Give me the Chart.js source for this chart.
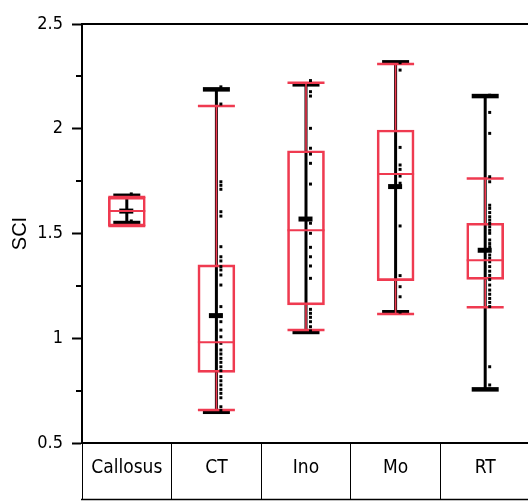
<!DOCTYPE html>
<html>
<head>
<meta charset="utf-8">
<script src="https://cdn.jsdelivr.net/npm/chart.js@4"></script>
<style>
html,body{margin:0;padding:0;background:#fff;overflow:hidden;}
#c{position:absolute;left:0;top:0;}
</style>
</head>
<body>
<canvas id="c" width="540" height="501"></canvas>
<script>
// ---- data ----
const categories = ['Callosus', 'CT', 'Ino', 'Mo', 'RT'];
const q1         = [1.536, 0.837, 1.159, 1.275, 1.281];
const q3         = [1.674, 1.350, 1.895, 1.994, 1.549];
const median     = [1.607, 0.981, 1.515, 1.784, 1.372];
const whiskerLow = [1.536, 0.658, 1.039, 1.116, 1.148];
const whiskerHigh= [1.674, 2.108, 2.220, 2.309, 1.762];
const mean       = [1.607, 1.108, 1.569, 1.724, 1.420];
const rangeMin   = [1.550, 0.649, 1.030, 1.124, 0.756];
const rangeMax   = [1.680, 2.188, 2.212, 2.317, 2.156];
const pointsCallosus = [1.689, 1.607, 1.560];
const pointsCT  = [2.20, 2.118, 1.747, 1.730, 1.711, 1.604, 1.583, 1.437, 1.389, 1.369, 1.342, 1.326,
                   1.302, 1.254, 1.151, 1.111, 1.079, 1.039, 1.007, 0.976, 0.944, 0.925, 0.904, 0.885,
                   0.864, 0.845, 0.817, 0.797, 0.777, 0.756, 0.737, 0.716, 0.673, 0.655];
const pointsIno = [2.23, 2.177, 2.156, 2.002, 1.907, 1.879, 1.835, 1.736, 1.549, 1.501, 1.434, 1.389,
                   1.345, 1.286, 1.138, 1.119, 1.100, 1.079, 1.055, 1.035];
const pointsMo  = [2.315, 2.280, 1.911, 1.827, 1.806, 1.774, 1.740, 1.536, 1.299, 1.246, 1.198, 1.125];
const pointsRT  = [2.160, 2.078, 1.978, 1.771, 1.747, 1.635, 1.620, 1.600, 1.580, 1.564, 1.548, 1.532,
                   1.515, 1.501, 1.469, 1.452, 1.437, 1.397, 1.381, 1.365, 1.342, 1.320, 1.300, 1.280,
                   1.254, 1.230, 1.210, 1.190, 1.171, 1.151, 0.864, 0.777, 0.757];
const yTickLabels = ['0.5', '1', '1.5', '2', '2.5'];
const yMinorTicks = [0.75, 1.25, 1.75, 2.25];
const yTitle = 'SCI';

// ---- styles ----
const RED = '#ef3a50';
const BLACK = '#000';
const NARROW = '"DejaVu Sans Condensed", "Liberation Sans Narrow", "Liberation Sans", Arial, sans-serif';
const DOT_SHIFT = 0.05; // category units, dots drawn just right of centre

const allPoints = [pointsCallosus, pointsCT, pointsIno, pointsMo, pointsRT];
const dotData = [];
allPoints.forEach((arr, i) => arr.forEach(v => dotData.push({x: i + DOT_SHIFT, y: v})));

const boxPlugin = {
  id: 'boxParts',
  beforeDatasetsDraw(chart) {
    const ctx = chart.ctx, xs = chart.scales.x, ys = chart.scales.y;
    ctx.save();
    ctx.lineCap = 'butt';
    categories.forEach((c, i) => {
      const x = xs.getPixelForValue(i);
      // black range line
      ctx.strokeStyle = BLACK;
      ctx.lineWidth = 3;
      ctx.beginPath();
      ctx.moveTo(x, ys.getPixelForValue(rangeMin[i]));
      ctx.lineTo(x, ys.getPixelForValue(rangeMax[i]));
      ctx.stroke();
      // black caps
      ctx.lineWidth = 4.5;
      [rangeMin[i], rangeMax[i]].forEach(v => {
        const y = ys.getPixelForValue(v);
        ctx.beginPath(); ctx.moveTo(x - 13.5, y); ctx.lineTo(x + 13.5, y); ctx.stroke();
      });
      // black mean mark
      ctx.lineWidth = 5;
      const ym = ys.getPixelForValue(mean[i]);
      ctx.beginPath(); ctx.moveTo(x - 7.5, ym); ctx.lineTo(x + 6.5, ym); ctx.stroke();
      // red whiskers
      ctx.strokeStyle = RED;
      ctx.lineWidth = 1.6;
      ctx.beginPath();
      ctx.moveTo(x, ys.getPixelForValue(q3[i])); ctx.lineTo(x, ys.getPixelForValue(whiskerHigh[i]));
      ctx.moveTo(x, ys.getPixelForValue(q1[i])); ctx.lineTo(x, ys.getPixelForValue(whiskerLow[i]));
      ctx.stroke();
      // red caps
      ctx.lineWidth = 2.5;
      [whiskerLow[i], whiskerHigh[i]].forEach(v => {
        const y = ys.getPixelForValue(v);
        ctx.beginPath(); ctx.moveTo(x - 18.5, y); ctx.lineTo(x + 18.5, y); ctx.stroke();
      });
    });
    ctx.restore();
  },
  afterDatasetsDraw(chart) {
    const ctx = chart.ctx, xs = chart.scales.x, ys = chart.scales.y;
    ctx.save();
    ctx.strokeStyle = RED;
    ctx.lineWidth = 2;
    categories.forEach((c, i) => {
      const x = xs.getPixelForValue(i);
      const y = ys.getPixelForValue(median[i]);
      ctx.beginPath(); ctx.moveTo(x - 18.5, y); ctx.lineTo(x + 18.5, y); ctx.stroke();
    });
    ctx.restore();
  },
  afterDraw(chart) {
    const ctx = chart.ctx, a = chart.chartArea, ys = chart.scales.y;
    ctx.save();
    ctx.strokeStyle = BLACK;
    // top frame
    ctx.lineWidth = 2;
    ctx.beginPath(); ctx.moveTo(a.left - 1, a.top); ctx.lineTo(chart.width, a.top); ctx.stroke();
    // minor ticks
    yMinorTicks.forEach(v => {
      const y = Math.round(ys.getPixelForValue(v));
      ctx.beginPath(); ctx.moveTo(a.left - 6, y); ctx.lineTo(a.left, y); ctx.stroke();
    });
    // bottom line of the label table
    ctx.lineWidth = 1.5;
    ctx.beginPath(); ctx.moveTo(a.left - 1, chart.height - 1.5); ctx.lineTo(chart.width, chart.height - 1.5); ctx.stroke();
    ctx.restore();
  }
};

new Chart(document.getElementById('c'), {
  data: {
    labels: categories,
    datasets: [
      {
        type: 'bar',
        data: categories.map((c, i) => [q1[i], q3[i]]),
        backgroundColor: 'rgba(0,0,0,0)',
        borderColor: RED,
        borderWidth: 2,
        borderSkipped: false,
        barThickness: 37,
        grouped: false,
        order: 2
      },
      {
        type: 'scatter',
        xAxisID: 'x2',
        data: dotData,
        pointStyle: 'rect',
        radius: 2.1,
        borderWidth: 0,
        backgroundColor: BLACK,
        order: 0
      }
    ]
  },
  options: {
    responsive: false,
    animation: false,
    devicePixelRatio: 1,
    layout: { padding: { left: 0, right: 10, top: 24, bottom: 0 } },
    plugins: { legend: { display: false }, tooltip: { enabled: false } },
    scales: {
      x: {
        type: 'category',
        offset: true,
        grid: { offset: true, display: true, drawOnChartArea: false, drawTicks: true,
                tickLength: 56, tickColor: BLACK, tickWidth: 1, color: BLACK, lineWidth: 1 },
        border: { display: true, color: BLACK, width: 2 },
        ticks: { font: { family: NARROW, size: 19 }, color: BLACK, padding: -42, maxRotation: 0 },
        afterFit(s) { s.height = 58; }
      },
      x2: { type: 'linear', display: false, min: -0.5, max: 4.5 },
      y: {
        type: 'linear',
        min: 0.5, max: 2.5,
        ticks: {
          stepSize: 0.25,
          autoSkip: false,
          font: { family: NARROW, size: 18 }, color: BLACK, padding: 9,
          callback: (v) => { const s = String(Math.round(v * 100) / 100); return yTickLabels.includes(s) ? s : ''; }
        },
        grid: { display: true, drawOnChartArea: false, drawTicks: true, tickLength: 10, tickWidth: 2,
                tickColor: (ctx) => yTickLabels.includes(String(Math.round(ctx.tick.value * 100) / 100)) ? BLACK : 'rgba(0,0,0,0)' },
        border: { display: true, color: BLACK, width: 2 },
        title: { display: true, text: yTitle, color: BLACK, font: { family: '"Liberation Sans", Arial, sans-serif', size: 20 }, padding: { top: 8 } },
        afterFit(s) { s.width = 82; }
      }
    }
  },
  plugins: [boxPlugin]
});
</script>
</body>
</html>
